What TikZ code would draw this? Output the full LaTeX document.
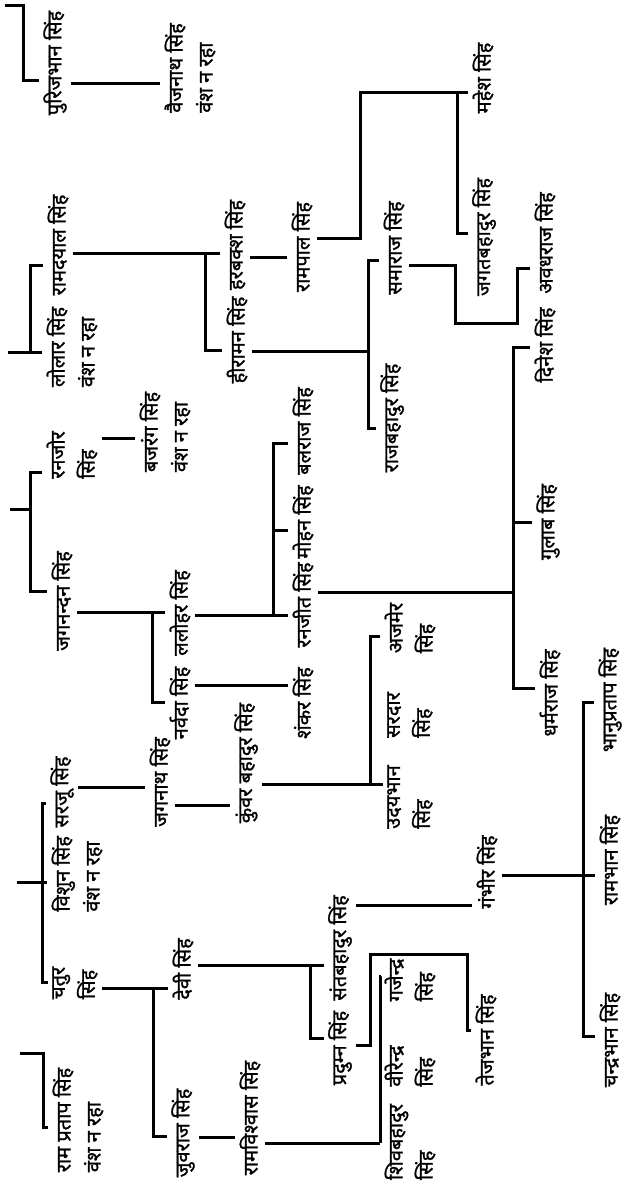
\documentclass[tikz,border=0pt]{standalone}
\usepackage{fontspec}
\newfontfamily\deva[Script=Devanagari,FakeBold=1.2]{Noto Sans}
\usetikzlibrary{positioning}

\begin{document}
\begin{tikzpicture}[
    x=0.5pt, y=-0.5pt,
    nm/.style={rotate=90, font=\deva\fontsize{10}{15}\selectfont,
               inner sep=2pt, align=left},
    ln/.style={line width=1.5pt}
  ]
  \useasboundingbox (0,0) rectangle (623,1185);

  % first column, parents off the page
  \node[nm] (puri)      at (55,63)   {पुरिजभान सिंह};
  \node[nm] (ramdayal)  at (58,245)  {रामदयाल सिंह};
  \node[nm] (lolar)     at (72,347)  {लोलार सिंह\\वंश न रहा};
  \node[nm] (ranjor)    at (72,455)  {रनजोर\\सिंह};
  \node[nm] (jagnandan) at (62,601)  {जगनन्दन सिंह};
  \node[nm] (sarju)     at (62,792)  {सरजू सिंह};
  \node[nm, anchor=west] (bishun) at (77,916) {विशुन सिंह\\वंश न रहा};
  \node[nm] (chatur)    at (75,983)  {चतुर\\सिंह};
  \node[nm] (ramprtap)  at (78,1120) {राम प्रताप सिंह\\वंश न रहा};

  % second column
  \node[nm] (baijnath)  at (190,68)  {वैजनाथ सिंह\\वंश न रहा};
  \node[nm] (harbaksh)  at (235,245) {हरबक्श सिंह};
  \node[nm] (hiraman)   at (237,340) {हीरामन सिंह};
  \node[nm] (bajrang)   at (165,432) {बजरंग सिंह\\वंश न रहा};
  \node[nm] (lalohar)   at (180,613) {ललोहर सिंह};
  \node[nm] (narvada)   at (180,703) {नर्वदा सिंह};
  \node[nm] (jagnath)   at (160,782) {जगनाथ सिंह};
  \node[nm] (devi)      at (183,969) {देवी सिंह};
  \node[nm] (juvraj)    at (183,1133) {जुवराज सिंह};

  % third column
  \node[nm] (rampal)    at (302,247) {रामपाल सिंह};
  \node[nm] (balraj)    at (303,431) {बलराज सिंह};
  \node[nm] (mohan)     at (303,522) {मोहन सिंह};
  \node[nm] (ranjit)    at (303,605) {रनजीत सिंह};
  \node[nm] (shankar)   at (303,703) {शंकर सिंह};
  \node[nm] (kunvar)    at (246,763) {कुंवर बहादुर सिंह};
  \node[nm] (sant)      at (340,948) {संतबहादुर सिंह};
  \node[nm] (pradyumn)  at (340,1048) {प्रदुम्न सिंह};
  \node[nm] (ramvishwas) at (250,1118) {रामविश्वास सिंह};

  % fourth column
  \node[nm] (mahesh)    at (483,78)  {महेश सिंह};
  \node[nm] (jagat)     at (484,237) {जगतबहादुर सिंह};
  \node[nm] (samaraj)   at (394,248) {समाराज सिंह};
  \node[nm] (rajbahadur) at (392,418) {राजबहादुर सिंह};
  \node[nm] (avadh)     at (545,243) {अवधराज सिंह};
  \node[nm] (dinesh)    at (545,345) {दिनेश सिंह};
  \node[nm] (gulab)     at (548,522) {गुलाब सिंह};
  \node[nm] (dharmraj)  at (550,693) {धर्मराज सिंह};
  \node[nm] (ajmer)     at (410,628) {अजमेर\\सिंह};
  \node[nm] (sardar)    at (410,715) {सरदार\\सिंह};
  \node[nm] (udaybhan)  at (410,797) {उदयभान\\सिंह};
  \node[nm] (gambhir)   at (487,872) {गंभीर सिंह};
  \node[nm] (tejbhan)   at (486,1040) {तेजभान सिंह};
  \node[nm] (gajendra)  at (410,980) {गजेन्द्र\\सिंह};
  \node[nm] (virendra)  at (410,1066) {वीरेन्द्र\\सिंह};
  \node[nm] (shiv)      at (410,1142) {शिवबहादुर\\सिंह};
  \node[nm] (bhanu)     at (610,700) {भानुप्रताप सिंह};
  \node[nm] (rambhan)   at (610,860) {रामभान सिंह};
  \node[nm] (chandra)   at (610,1040) {चन्द्रभान सिंह};

  % stubs from the previous page
  \coordinate (in1) at (5,5);
  \coordinate (in2) at (8,352);
  \coordinate (in3) at (10,509);
  \coordinate (in4) at (17,882);
  \coordinate (in5) at (20,1053);

  % brackets of the first column
  \draw[ln] (in1) -| (23,80) -- (puri.north |- 0,80);
  \draw[ln] (ramdayal.north |- 0,265) -| (30,352);
  \draw[ln] (in2) -- (lolar.north |- in2);
  \draw[ln] (ranjor.north |- 0,472) -| (30,591) -- (jagnandan.north |- 0,591);
  \draw[ln] (in3) -- (30,509);
  \draw[ln] (sarju.north |- 0,803) -| (42,982) -- (chatur.north |- 0,982);
  \draw[ln] (in4) -- (bishun.north |- in4);
  \draw[ln] (in5) -| (43,1127) -- (ramprtap.north |- 0,1127);

  % descendants
  \draw[ln] (puri.south |- 0,83) -- (baijnath.north |- 0,83);
  \draw[ln] (ramdayal.south |- 0,253) -- (harbaksh.north |- 0,253);
  \draw[ln] (205,253) |- (hiraman.north |- 0,350);
  \draw[ln] (harbaksh.south |- 0,257) -- (rampal.north |- 0,257);
  \draw[ln] (rampal.south |- 0,238) -| (360,92) -- (mahesh.north |- 0,92);
  \draw[ln] (457,92) |- (jagat.north |- 0,233);
  \draw[ln] (hiraman.south |- 0,351) -- (368,351);
  \draw[ln] (samaraj.north |- 0,260) -| (368,428) -- (rajbahadur.north |- 0,428);
  \draw[ln] (samaraj.south |- 0,265) -| (455,323) -| (517,268) -- (avadh.north |- 0,268);
  \draw[ln] (ranjor.south |- 0,438) -- (bajrang.north |- 0,438);
  \draw[ln] (jagnandan.south |- 0,612) -- (lalohar.north |- 0,612);
  \draw[ln] (152,612) |- (narvada.north |- 0,702);
  \draw[ln] (lalohar.south |- 0,615) -- (ranjit.north |- 0,615);
  \draw[ln] (balraj.north |- 0,443) -| (273,615);
  \draw[ln] (273,530) -- (mohan.north |- 0,530);
  \draw[ln] (narvada.south |- 0,685) -- (shankar.north |- 0,685);
  \draw[ln] (ranjit.south |- 0,592) -- (513,592);
  \draw[ln] (dinesh.north |- 0,347) -| (513,688) -- (dharmraj.north |- 0,688);
  \draw[ln] (513,522) -- (gulab.north |- 0,522);
  \draw[ln] (sarju.south |- 0,787) -- (jagnath.north |- 0,787);
  \draw[ln] (jagnath.south |- 0,805) -- (kunvar.north |- 0,805);
  \draw[ln] (kunvar.south |- 0,784) -- (udaybhan.north |- 0,784);
  \draw[ln] (ajmer.north |- 0,636) -| (370,784);
  \draw[ln] (chatur.south |- 0,988) -- (devi.north |- 0,988);
  \draw[ln] (153,988) |- (juvraj.north |- 0,1136);
  \draw[ln] (devi.south |- 0,965) -- (sant.north |- 0,965);
  \draw[ln] (310,965) |- (pradyumn.north |- 0,1038);
  \draw[ln] (sant.south |- 0,905) -- (gambhir.north |- 0,905);
  \draw[ln] (gambhir.south |- 0,875) -- (rambhan.north |- 0,875);
  \draw[ln] (bhanu.north |- 0,702) -| (583,1036) -- (chandra.north |- 0,1036);
  \draw[ln] (pradyumn.south |- 0,1045) -| (370,954) -| (467,1030) -- (tejbhan.north |- 0,1030);
  \draw[ln] (juvraj.south |- 0,1137) -- (ramvishwas.north |- 0,1137);
  \draw[ln] (ramvishwas.south |- 0,1143) -- (shiv.north |- 0,1143);
  \draw[ln] (gajendra.north |- 0,976) -| (380,1143);
  \draw[ln] (380,1062) -- (virendra.north |- 0,1062);
\end{tikzpicture}
\end{document}
